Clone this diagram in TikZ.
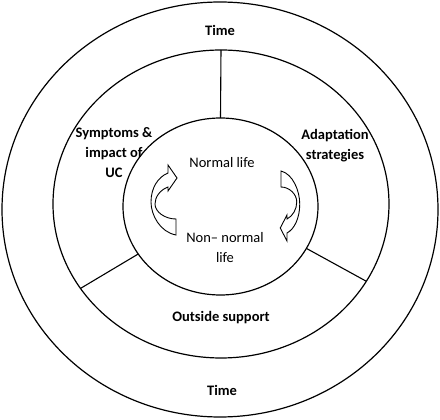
\documentclass[tikz,border=0pt]{standalone}
\usepackage{fontspec}
\setmainfont{Carlito}
\usetikzlibrary{shapes.geometric}

\begin{document}
\begin{tikzpicture}[
    x=1pt, y=1pt,
    ring/.style={draw, ellipse, line width=1.2pt, inner sep=0pt, outer sep=0pt},
    spoke/.style={line width=1.1pt},
    lbl/.style={font=\fontsize{14.5}{20}\selectfont\bfseries, align=center},
    lifetxt/.style={font=\fontsize{14.5}{20}\selectfont, align=center},
    cyclearrow/.pic={
        \draw[line width=0.9pt, fill=white] (12,-35) .. controls (-4,-32) and (-13,-15) .. (-13,-2)
            .. controls (-13,12) and (-6,23) .. (4,27) -- (4,35) -- (13,22) -- (4,9) -- (4,13)
            .. controls (-4,10) and (-9,3) .. (-9,-4) .. controls (-9,-12) and (1,-19) .. (12,-19) -- cycle;
    }
]
    \useasboundingbox (-220,-213) rectangle (220,207);

    % rings
    \node[ring, minimum width=436pt, minimum height=415pt] (outer) at (0,-2.5) {};
    \node[ring, minimum width=336pt, minimum height=308pt] (middle) at (1,3) {};
    \node[ring, minimum width=195pt, minimum height=177pt] (inner) at (0.5,0.5) {};

    % dividers
    \draw[spoke] (inner.90) -- (middle.90);
    \draw[spoke] (inner.210) -- (middle.211);
    \draw[spoke] (inner.334) -- (middle.332);

    % labels
    \node[lbl] (timetop) at (0,177) {Time};
    \node[lbl] (timebot) at (2,-183) {Time};
    \node[lbl] (support) at (1,-111) {Outside support};
    \node[lbl] (symptoms) at (-106,54) {Symptoms \&\\impact of\\UC};
    \node[lbl] (adapt) at (115,61) {Adaptation\\strategies};
    \node[lifetxt] (normal) at (2,44) {Normal life};
    \node[lifetxt] (nonnormal) at (5,-41) {Non– normal\\life};

    % cycle arrows
    \pic at (-56,7) {cyclearrow};
    \pic[rotate=180, xscale=0.75] at (70,1) {cyclearrow};
\end{tikzpicture}
\end{document}
